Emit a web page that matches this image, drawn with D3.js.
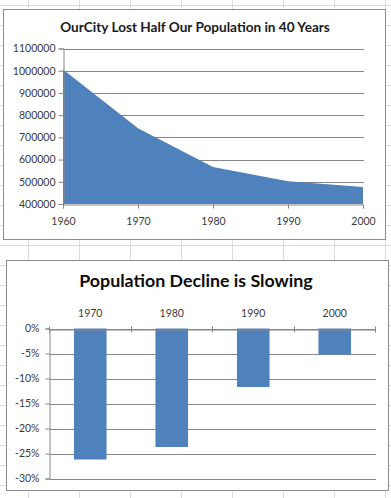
<!DOCTYPE html>
<html>
<head>
<meta charset="utf-8">
<script src="https://cdn.jsdelivr.net/npm/d3@7"></script>
<style>
  html, body { margin: 0; padding: 0; background: #fff; }
  svg { display: block; font-family: Lato, "Open Sans", sans-serif; }
</style>
</head>
<body>
<div id="chart"></div>
<script>
// population by census year
const years = [1960, 1970, 1980, 1990, 2000]
const population = [1006000, 741000, 567000, 502000, 476000]
const popTicks = [400000, 500000, 600000, 700000, 800000, 900000, 1000000, 1100000]

// decade-over-decade change
const changeYears = [1970, 1980, 1990, 2000]
const changePct = [-26.2, -23.7, -11.7, -5.2]
const pctTicks = [0, -5, -10, -15, -20, -25, -30]

const W = 391, H = 498
const blue = "#4f81bd", grid = "#868686", labelColor = "#3a3a3a"

let svg = d3.select("#chart").append("svg")
    .attr("width", W)
    .attr("height", H)

// spreadsheet cells behind the charts
let sheet = svg.append("g")
sheet.selectAll("line.col")
    .data(d3.range(28, W, 51))
    .join("line")
    .attr("x1", d => d + 0.5).attr("x2", d => d + 0.5)
    .attr("y1", 0).attr("y2", H)
    .attr("stroke", "#dadcdd")
sheet.selectAll("line.row")
    .data(d3.range(5, H, 20))
    .join("line")
    .attr("y1", d => d + 0.5).attr("y2", d => d + 0.5)
    .attr("x1", 0).attr("x2", W)
    .attr("stroke", "#dadcdd")

// ---------- top chart: area ----------
let areaChart = svg.append("g")
areaChart.append("rect")
    .attr("x", 3.5).attr("y", 9.5)
    .attr("width", 382).attr("height", 230)
    .attr("fill", "#fff")
    .attr("stroke", "#8c8c8c")

areaChart.append("text")
    .attr("x", 195).attr("y", 32)
    .attr("text-anchor", "middle")
    .attr("font-size", 13.6)
    .attr("font-weight", "bold")
    .attr("fill", "#1a1a1a")
    .text("OurCity Lost Half Our Population in 40 Years")

const x1 = d3.scalePoint().domain(years).range([63, 363])
const y1 = d3.scaleLinear().domain([400000, 1100000]).range([204, 48.5])

// gridlines
areaChart.selectAll("line.grid")
    .data(popTicks.slice(1))
    .join("line")
    .attr("x1", 63).attr("x2", 364)
    .attr("y1", d => Math.round(y1(d)) + 0.5)
    .attr("y2", d => Math.round(y1(d)) + 0.5)
    .attr("stroke", grid)

const popData = years.map((yr, i) => ({year: yr, value: population[i]}))
areaChart.append("path")
    .datum(popData)
    .attr("fill", blue)
    .attr("d", d3.area()
        .x(d => x1(d.year))
        .y0(y1(400000))
        .y1(d => y1(d.value)))

// y axis
let yAx1 = areaChart.append("g")
    .attr("transform", "translate(63.5,0)")
    .call(d3.axisLeft(y1).tickValues(popTicks).tickSize(5).tickPadding(3)
        .tickFormat(d3.format("d")))
// x axis
let xAx1 = areaChart.append("g")
    .attr("transform", "translate(0," + (Math.round(y1(400000)) + 0.5) + ")")
    .call(d3.axisBottom(x1).tickSize(4).tickPadding(9))

// ---------- bottom chart: bars ----------
let barChart = svg.append("g")
barChart.append("rect")
    .attr("x", 6.5).attr("y", 260.5)
    .attr("width", 382).attr("height", 230)
    .attr("fill", "#fff")
    .attr("stroke", "#8c8c8c")

barChart.append("text")
    .attr("x", 196).attr("y", 287)
    .attr("text-anchor", "middle")
    .attr("font-size", 17.8)
    .attr("font-weight", "bold")
    .attr("fill", "#0d0d0d")
    .text("Population Decline is Slowing")

const x2 = d3.scaleBand().domain(changeYears).range([49.5, 375.5])
    .paddingInner(0.6).paddingOuter(0.3)
const y2 = d3.scaleLinear().domain([-30, 0]).range([478.5, 328.5])

barChart.selectAll("line.grid")
    .data(pctTicks)
    .join("line")
    .attr("x1", 49.5).attr("x2", 376)
    .attr("y1", d => Math.round(y2(d)) + 0.5)
    .attr("y2", d => Math.round(y2(d)) + 0.5)
    .attr("stroke", grid)

barChart.selectAll("rect.bar")
    .data(changeYears.map((yr, i) => ({year: yr, value: changePct[i]})))
    .join("rect")
    .attr("class", "bar")
    .attr("x", d => x2(d.year))
    .attr("width", x2.bandwidth())
    .attr("y", y2(0))
    .attr("height", d => y2(d.value) - y2(0))
    .attr("fill", blue)

let yAx2 = barChart.append("g")
    .attr("transform", "translate(49.5,0)")
    .call(d3.axisLeft(y2).tickValues(pctTicks).tickSize(4).tickPadding(6)
        .tickFormat(d => d + "%"))

// category labels sit above the plot ("high" label position)
let xAx2 = barChart.append("g")
    .attr("transform", "translate(0," + (Math.round(y2(0)) + 0.5) + ")")
    .call(d3.axisTop(x2).tickSize(0).tickPadding(13))
// tick marks on the category boundaries
const step = x2.step()
barChart.selectAll("line.ctick")
    .data(d3.range(changeYears.length + 1))
    .join("line")
    .attr("x1", i => Math.round(49 + i * step) + 0.5)
    .attr("x2", i => Math.round(49 + i * step) + 0.5)
    .attr("y1", Math.round(y2(0)) - 2.5)
    .attr("y2", Math.round(y2(0)) + 3.5)
    .attr("stroke", grid)

// shared axis styling
for (let ax of [yAx1, xAx1, yAx2, xAx2]) {
    ax.select(".domain").attr("stroke", grid)
    ax.selectAll(".tick line").attr("stroke", grid)
    ax.selectAll(".tick text")
        .attr("fill", labelColor)
        .attr("font-size", 10.5)
        .attr("font-family", "Lato, sans-serif")
}
</script>
</body>
</html>
